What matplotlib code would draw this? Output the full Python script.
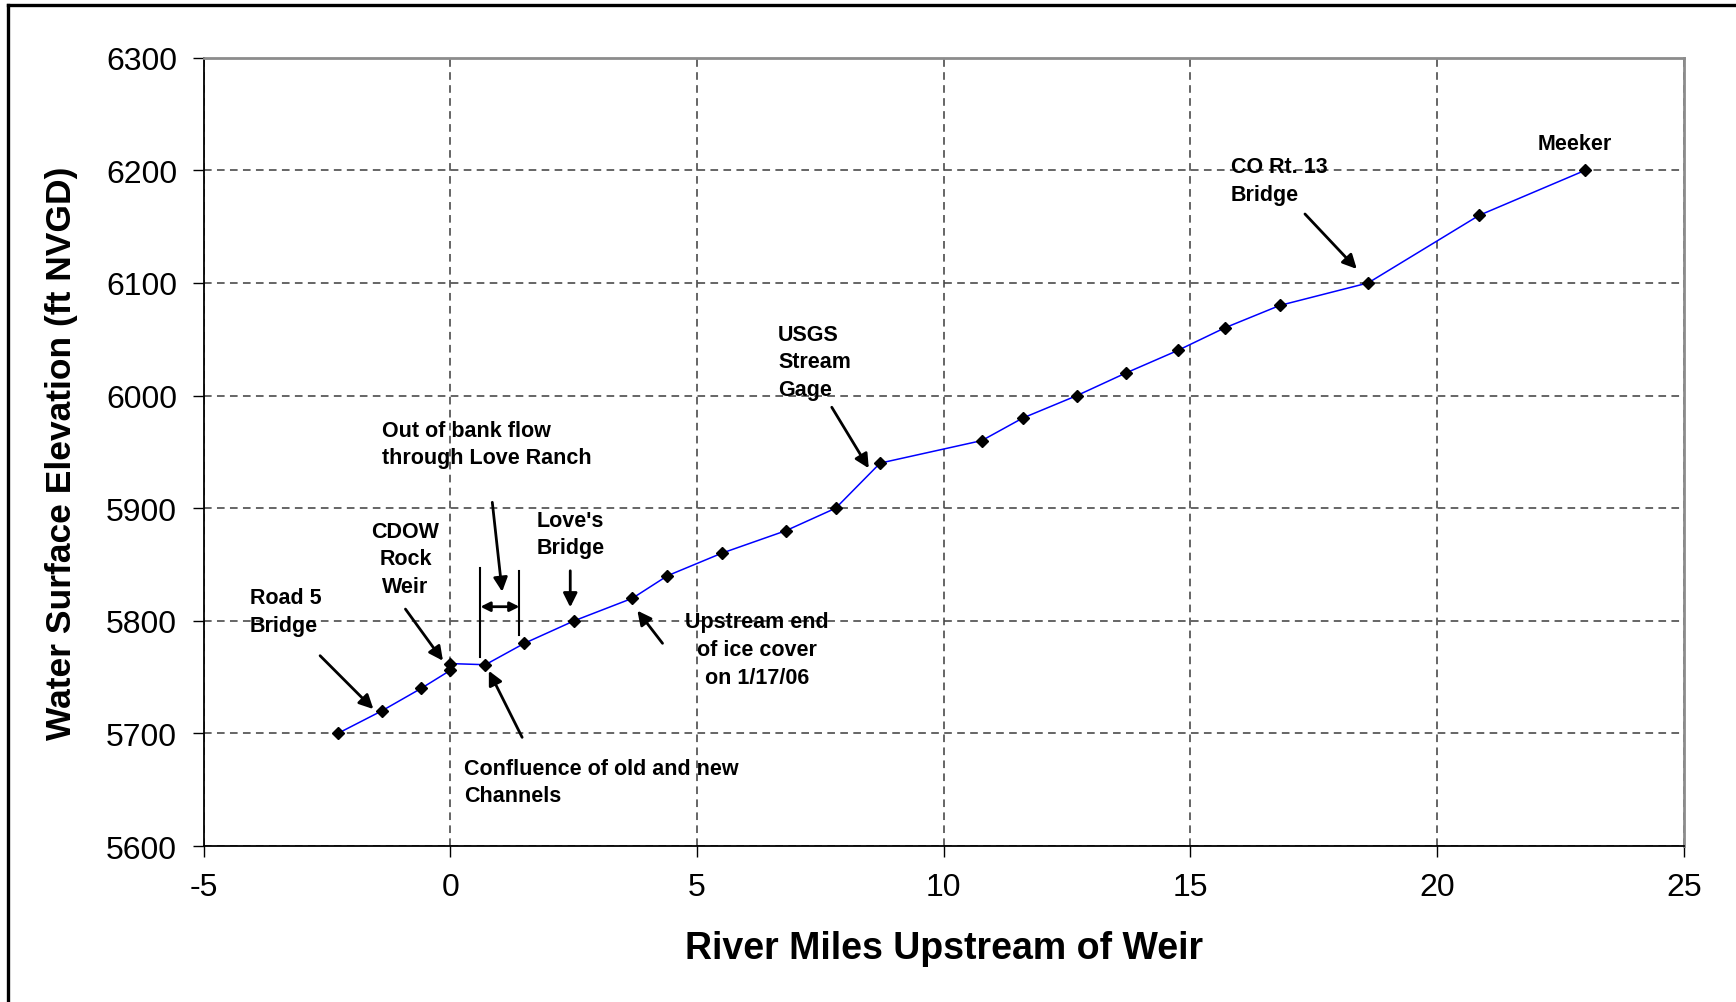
import matplotlib
matplotlib.use("Agg")
import matplotlib.pyplot as plt
from matplotlib.lines import Line2D

plt.rcParams['font.family'] = ['Liberation Sans', 'DejaVu Sans']
plt.rcParams['axes.unicode_minus'] = False

# ---- data ----
river_miles = [-2.28, -1.39, -0.59, 0.0, 0.0, 0.71, 1.50, 2.51, 3.69, 4.40,
               5.50, 6.80, 7.81, 8.71, 10.77, 11.60, 12.70, 13.69, 14.74,
               15.69, 16.81, 18.60, 20.85, 23.00]
elevation = [5700, 5720, 5740, 5756, 5762, 5761, 5780, 5800, 5820, 5840,
             5860, 5880, 5900, 5940, 5960, 5980, 6000, 6020, 6040,
             6060, 6080, 6100, 6160, 6200]

x_ticks = [-5, 0, 5, 10, 15, 20, 25]
y_ticks = [5600, 5700, 5800, 5900, 6000, 6100, 6200, 6300]

# label text, anchor (x, y), horizontal alignment
labels = [
    ("Road 5\nBridge", (-4.06, 5808), 'left'),
    ("CDOW\nRock\nWeir", (-0.91, 5855), 'center'),
    ("Out of bank flow\nthrough Love Ranch", (-1.395, 5957), 'left'),
    ("Love's\nBridge", (1.75, 5877), 'left'),
    ("Upstream end\nof ice cover\non 1/17/06", (6.22, 5774.5), 'center'),
    ("Confluence of old and new\nChannels", (0.275, 5657), 'left'),
    ("USGS\nStream\nGage", (6.64, 6030), 'left'),
    ("CO Rt. 13\nBridge", (15.82, 6191), 'left'),
    ("Meeker", (22.79, 6224), 'center'),
]

# arrows: (tail, head)
arrows = [
    ((-2.64, 5769), (-1.56, 5721.6)),
    ((-0.91, 5810.4), (-0.15, 5764.5)),
    ((0.85, 5905.2), (1.05, 5825.8)),
    ((2.43, 5844.4), (2.43, 5812)),
    ((4.30, 5780), (3.79, 5809)),
    ((1.455, 5696.5), (0.78, 5755.6)),
    ((7.73, 5989.6), (8.48, 5935.4)),
    ((17.32, 6161.2), (18.37, 6112.4)),
]

# channel bracket lines: x, y_bottom, y_top
brackets = [(0.61, 5767.5, 5846.6), (1.40, 5787.4, 5844.5)]
bracket_span = (0.61, 1.40, 5812.5)

# ---- figure ----
fig = plt.figure(figsize=(17.36, 10.03), dpi=100)
ax = fig.add_axes([0.1173, 0.1555, 0.9700 - 0.1173, 0.9415 - 0.1555])

ax.plot(river_miles, elevation, color='#0000FF', lw=1.1, zorder=3)
ax.plot(river_miles, elevation, linestyle='none', marker='D', markersize=5.8,
        color='black', zorder=4)

ax.set_xlim(-5, 25)
ax.set_ylim(5600, 6300)
ax.set_xticks(x_ticks)
ax.set_yticks(y_ticks)
ax.tick_params(axis='both', direction='out', length=8, width=1.0,
               labelsize=23, color='black')
ax.tick_params(axis='x', pad=11)
ax.tick_params(axis='y', pad=11)

ax.grid(True, color='#3c3c3c', linestyle=(0, (5, 3.5)), lw=1.1)
ax.set_axisbelow(True)

for side in ['left', 'bottom']:
    ax.spines[side].set_color('black')
    ax.spines[side].set_linewidth(1.3)
for side in ['top', 'right']:
    ax.spines[side].set_color('#8c8c8c')
    ax.spines[side].set_linewidth(2.0)

ax.set_xlabel("River Miles Upstream of Weir", fontsize=27, fontweight='bold',
              labelpad=20)
ax.set_ylabel("Water Surface Elevation (ft NVGD)", fontsize=25.5,
              fontweight='bold', labelpad=20)

for txt, (tx, ty), ha in labels:
    ax.text(tx, ty, txt, fontsize=15.5, fontweight='bold', ha=ha, va='center',
            linespacing=1.41, zorder=5)

for tail, head in arrows:
    ax.annotate('', xy=head, xytext=tail,
                arrowprops=dict(arrowstyle='-|>', lw=2.0, color='black',
                                mutation_scale=21, shrinkA=0, shrinkB=0),
                zorder=5)

for bx, y0, y1 in brackets:
    ax.plot([bx, bx], [y0, y1], color='black', lw=1.5, zorder=5)
x0, x1, yb = bracket_span
ax.annotate('', xy=(x1, yb), xytext=(x0, yb),
            arrowprops=dict(arrowstyle='<|-|>', lw=2.0, color='black',
                            mutation_scale=14, shrinkA=0, shrinkB=0),
            zorder=5)

# outer frame (left & top edges visible)
fx = 7.5 / 1736
fy = 1 - 6 / 1003
fig.add_artist(Line2D([fx, fx], [0, fy], transform=fig.transFigure,
                      color='black', lw=2.4))
fig.add_artist(Line2D([fx, 1.0], [fy, fy], transform=fig.transFigure,
                      color='black', lw=2.4))

fig.savefig("out.png", dpi=100)
